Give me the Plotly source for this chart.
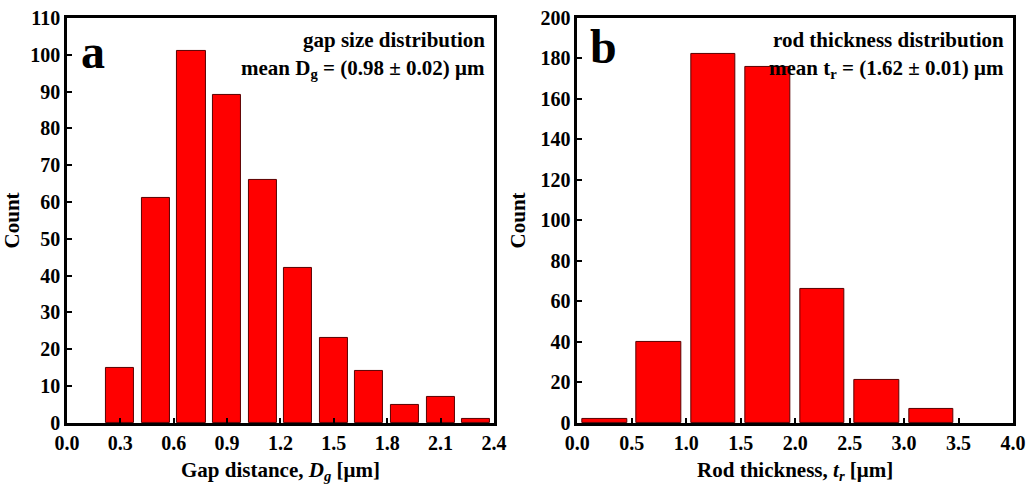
import plotly.graph_objects as go

gap_centers = [0.3, 0.5, 0.7, 0.9, 1.1, 1.3, 1.5, 1.7, 1.9, 2.1, 2.3]
gap_counts = [15, 61, 101, 89, 66, 42, 23, 14, 5, 7, 1]
gap_ticks = [0.0, 0.3, 0.6, 0.9, 1.2, 1.5, 1.8, 2.1, 2.4]

rod_centers = [0.25, 0.75, 1.25, 1.75, 2.25, 2.75, 3.25]
rod_counts = [2, 40, 182, 176, 66, 21, 7]
rod_ticks = [0.0, 0.5, 1.0, 1.5, 2.0, 2.5, 3.0, 3.5, 4.0]

FONT = "Liberation Serif"
TICK = dict(family=FONT, size=20, color="black", weight="bold")
TITLE = dict(family=FONT, size=21, color="black", weight="bold")

fig = go.Figure()
fig.add_trace(go.Bar(x=gap_centers, y=gap_counts, width=0.158,
                     marker=dict(color="#ff0000", line=dict(color="#5a0000", width=1)),
                     xaxis="x", yaxis="y", showlegend=False))
fig.add_trace(go.Bar(x=rod_centers, y=rod_counts, width=0.41,
                     marker=dict(color="#ff0000", line=dict(color="#5a0000", width=1)),
                     xaxis="x2", yaxis="y2", showlegend=False))

ax_common = dict(showline=True, linecolor="black", linewidth=2.5, mirror=True,
                 ticks="inside", ticklen=5, tickwidth=2, tickcolor="black",
                 showgrid=False, zeroline=False, tickfont=TICK, automargin=False)

ydom = [0.128, 0.963]
fig.update_layout(
    width=1030, height=485, margin=dict(l=0, r=0, t=0, b=0, autoexpand=False),
    plot_bgcolor="white", paper_bgcolor="white",
    font=dict(family=FONT, color="black"),
    bargap=0,
    xaxis=dict(domain=[0.065, 0.4795], range=[0, 2.4], tickvals=gap_ticks,
               ticktext=[f"{v:.1f}" for v in gap_ticks], anchor="y",
               title=dict(text="Gap distance, <i>D</i><sub><i>g</i></sub> [μm]",
                          font=TITLE, standoff=10),
               **ax_common),
    yaxis=dict(domain=ydom, range=[0, 110], tickvals=list(range(0, 111, 10)), anchor="x",
               title=dict(text="Count", font=TITLE, standoff=8),
               **ax_common),
    xaxis2=dict(domain=[0.5605, 0.9835], range=[0, 4.0], tickvals=rod_ticks,
                ticktext=[f"{v:.1f}" for v in rod_ticks], anchor="y2",
                title=dict(text="Rod thickness, <i>t</i><sub><i>r</i></sub> [μm]",
                           font=TITLE, standoff=10),
                **ax_common),
    yaxis2=dict(domain=ydom, range=[0, 200], tickvals=list(range(0, 201, 20)), anchor="x2",
                title=dict(text="Count", font=TITLE, standoff=10),
                **ax_common),
)

def ann(text, x, y, size, xanchor="right", xref="x domain", yref="y domain"):
    fig.add_annotation(text=text, x=x, y=y, xref=xref, yref=yref, showarrow=False,
                       xanchor=xanchor, yanchor="middle",
                       font=dict(family=FONT, size=size, color="black", weight="bold"))

ann("gap size distribution", 0.985, 0.945, 21)
ann("mean D<sub>g</sub> = (0.98 ± 0.02) μm", 0.985, 0.875, 21)
ann("a", 0.029, 0.918, 48, xanchor="left")
ann("rod thickness distribution", 0.985, 0.945, 21, xref="x2 domain", yref="y2 domain")
ann("mean t<sub>r</sub> = (1.62 ± 0.01) μm", 0.985, 0.875, 21, xref="x2 domain", yref="y2 domain")
ann("b", 0.024, 0.93, 48, xanchor="left", xref="x2 domain", yref="y2 domain")

fig.write_html("out.html")
